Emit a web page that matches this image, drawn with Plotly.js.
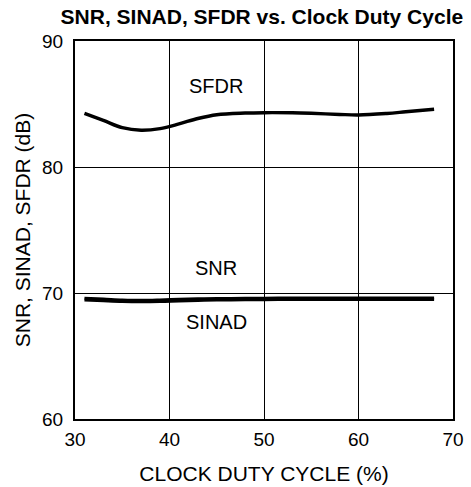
<!DOCTYPE html>
<html><head><meta charset="utf-8">
<script src="https://cdn.plot.ly/plotly-3.0.1.min.js"></script>
<style>html,body{margin:0;padding:0;background:#fff}</style>
</head><body>
<div id="chart" style="width:471px;height:487px"></div>
<script>
const dutyCycle = [31, 33, 35, 37, 39, 41, 43, 45, 48, 50, 53, 55, 58, 60, 63, 65, 68];
const sfdr =      [84.26, 83.7, 83.12, 82.92, 83.05, 83.42, 83.85, 84.15, 84.28, 84.31, 84.3, 84.26, 84.17, 84.13, 84.25, 84.38, 84.58];
const snr =       [69.58, 69.52, 69.45, 69.42, 69.45, 69.5, 69.54, 69.56, 69.58, 69.59, 69.6, 69.6, 69.6, 69.6, 69.6, 69.6, 69.6];
const sinad =     [69.45, 69.38, 69.32, 69.3, 69.32, 69.37, 69.41, 69.44, 69.46, 69.47, 69.48, 69.48, 69.48, 69.48, 69.48, 69.48, 69.48];
const xTicks = [30, 40, 50, 60, 70];
const yTicks = [60, 70, 80, 90];
const labels = [
  {text: 'SFDR', x: 44.9, y: 86.4},
  {text: 'SNR', x: 44.9, y: 72.0},
  {text: 'SINAD', x: 45.0, y: 67.7}
];
const font = 'Liberation Sans, Arial, sans-serif';
const traces = [
  {x: dutyCycle, y: sfdr, mode: 'lines', line: {color: '#000', width: 3.4, shape: 'spline'}, name: 'SFDR'},
  {x: dutyCycle, y: snr, mode: 'lines', line: {color: '#000', width: 3, shape: 'spline'}, name: 'SNR'},
  {x: dutyCycle, y: sinad, mode: 'lines', line: {color: '#000', width: 3, shape: 'spline'}, name: 'SINAD'}
];
const layout = {
  width: 471, height: 487,
  margin: {l: 75, r: 18, t: 41, b: 68},
  paper_bgcolor: '#fff', plot_bgcolor: '#fff',
  showlegend: false,
  font: {family: font, color: '#000', size: 19},
  title: {text: '<b>SNR, SINAD, SFDR vs. Clock Duty Cycle</b>', x: 0.556, xanchor: 'center', y: 0.965, yanchor: 'middle', font: {size: 21, family: font, color: '#000'}},
  xaxis: {range: [30, 70], tickvals: xTicks, ticktext: xTicks.map(String), showgrid: true, gridcolor: '#000', gridwidth: 1,
    showline: true, linecolor: '#000', linewidth: 2, mirror: true, ticks: '', zeroline: false, ticklabelstandoff: 2,
    tickfont: {size: 19, family: font}, title: {text: 'CLOCK DUTY CYCLE (%)', font: {size: 21, family: font}, standoff: 18}},
  yaxis: {range: [60, 90], tickvals: yTicks, ticktext: yTicks.map(String), showgrid: true, gridcolor: '#000', gridwidth: 1,
    showline: true, linecolor: '#000', linewidth: 2, mirror: true, ticks: '', zeroline: false, ticklabelstandoff: 6,
    tickfont: {size: 19, family: font}, title: {text: 'SNR, SINAD, SFDR (dB)', font: {size: 21, family: font}, standoff: 6}},
  annotations: labels.map(l => ({text: l.text, x: l.x, y: l.y, xref: 'x', yref: 'y', showarrow: false, font: {size: 20, family: font, color: '#000'}}))
};
Plotly.newPlot('chart', traces, layout, {displayModeBar: false, staticPlot: true});
</script>
</body></html>
